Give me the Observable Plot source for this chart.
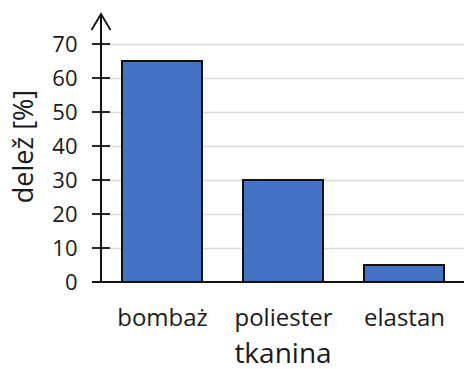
<!DOCTYPE html>
<html>
<head>
<meta charset="utf-8">
<script src="https://cdn.jsdelivr.net/npm/d3@7"></script>
<script src="https://cdn.jsdelivr.net/npm/@observablehq/plot@0.6"></script>
<style>
  html, body { margin: 0; padding: 0; background: #fff; }
  #chart svg { display: block; }
</style>
</head>
<body>
<div id="chart"></div>
<script>
const categories = ["bombaż", "poliester", "elastan"];
const values = [65, 30, 5];
const yTicks = [0, 10, 20, 30, 40, 50, 60, 70];
const xLabel = "tkanina";
const yLabel = "delež [%]";

const data = categories.map((c, i) => ({ category: c, value: values[i] }));

const W = 464, H = 369;
const mL = 101, mR = 0, mT = 44, mB = 87;
const FONT = "'Open Sans', sans-serif";

const svg = Plot.plot({
  width: W,
  height: H,
  marginLeft: mL,
  marginRight: mR,
  marginTop: mT,
  marginBottom: mB,
  style: { fontFamily: FONT, color: "#1a1a1a", background: "#fff" },
  x: { domain: categories, paddingInner: 0.34, paddingOuter: 0.17, label: null },
  y: { domain: [0, 70], label: null },
  marks: [
    Plot.gridY(yTicks.filter(d => d > 0), { stroke: "#d9d9d9", strokeOpacity: 1, strokeWidth: 1.5 }),
    Plot.barY(data, { x: "category", y: "value", fill: "#4472c4", stroke: "#111", strokeWidth: 2 }),
    Plot.axisY(yTicks, { tickSize: 0, tickPadding: 24, fontSize: 22, fontWeight: 500, label: null }),
    Plot.axisX({ tickSize: 0, tickPadding: 26, fontSize: 24, fontWeight: 500, label: null }),
    Plot.text([xLabel], { frameAnchor: "bottom", dy: 80, fontSize: 28, fontWeight: 500, lineAnchor: "bottom", textAnchor: "middle", text: d => d }),
    Plot.text([yLabel], { frameAnchor: "left", rotate: -90, dx: -69, dy: -17, fontSize: 27, fontWeight: 500, lineAnchor: "bottom", textAnchor: "middle", text: d => d })
  ]
});

// Axis lines, crossing tick marks and arrow, placed through the plot's scales
const y = svg.scale("y");
const g = d3.select(svg).append("g").attr("stroke", "#111").attr("fill", "none");
const axisX = mL;
const y0 = y.apply(0);
const yTop = mT - 30;
g.append("line").attr("x1", axisX).attr("x2", axisX).attr("y1", y0).attr("y2", yTop).attr("stroke-width", 2);
g.append("line").attr("x1", mL - 9).attr("x2", W).attr("y1", y0).attr("y2", y0).attr("stroke-width", 2);
yTicks.filter(d => d > 0).forEach(t => {
  const ty = y.apply(t);
  g.append("line").attr("x1", axisX - 9).attr("x2", axisX + 9).attr("y1", ty).attr("y2", ty).attr("stroke-width", 1.8);
});
g.append("path")
  .attr("d", `M${axisX - 9.5},${yTop + 16}L${axisX},${yTop}L${axisX + 9.5},${yTop + 16}`)
  .attr("stroke-width", 1.8);

document.getElementById("chart").appendChild(svg);
</script>
</body>
</html>
